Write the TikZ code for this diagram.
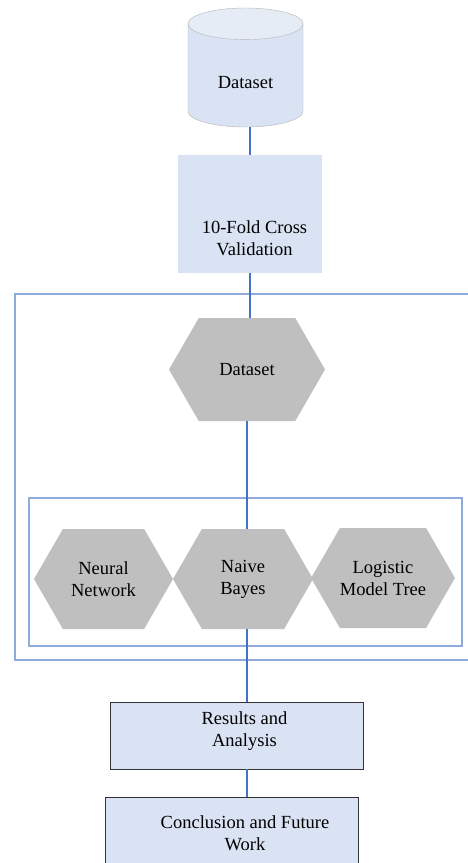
\documentclass[tikz,border=0pt]{standalone}
\usepackage{fontspec}
\setmainfont{Liberation Serif}
\usetikzlibrary{shapes.geometric,shapes.symbols}
\definecolor{boxblue}{HTML}{DAE3F3}
\definecolor{topblue}{HTML}{E6ECF6}
\definecolor{linkblue}{HTML}{4472C4}
\definecolor{frameblue}{HTML}{8FAADC}
\definecolor{hexgray}{HTML}{BFBFBF}
\tikzset{
  every node/.style={font=\fontsize{18.5}{22}\selectfont, align=center},
  db/.style={cylinder, shape border rotate=90, aspect=0.57, draw=gray!60,
    cylinder uses custom fill, cylinder body fill=boxblue, cylinder end fill=topblue,
    minimum width=115pt, minimum height=119pt, inner sep=0pt},
  hexa/.style={signal, signal to=west and east, signal pointer angle=120,
    fill=hexgray, inner sep=0pt},
  stagebox/.style={rectangle, fill=boxblue, inner sep=0pt},
  frame/.style={frameblue, line width=1.6pt},
  link/.style={linkblue, line width=1.3pt}
}
\begin{document}
\begin{tikzpicture}[x=1pt, y=-1pt]
    \useasboundingbox (0,0) rectangle (468,863);
    % Draw the two frames
    \draw[frame] (15,294) rectangle (475,660);
    \draw[frame] (29,498) rectangle (462,646);

    % Input data and validation
    \node[db, anchor=shape center] (db) at (245.5,67.5) {\raisebox{-7pt}[\height][\depth]{Dataset}};
    \node[stagebox, minimum width=144pt, minimum height=118pt,
      label={[xshift=4.5pt, yshift=-24pt]center:10-Fold Cross\\Validation}] (cv) at (250,214) {};

    % Hexagons inside the frames
    \node[hexa, minimum width=156pt, minimum height=103pt] (ds) at (247,369.5) {Dataset};
    \node[hexa, minimum width=139pt, minimum height=100pt] (nn) at (103.5,579) {Neural\\Network};
    \node[hexa, minimum width=140pt, minimum height=100pt] (nb) at (243,579) {Naive\\Bayes};
    \node[hexa, minimum width=140pt, minimum height=100pt] (lmt) at (383,578) {Logistic\\Model Tree};

    % Output stages
    \node[stagebox, draw=black!80, line width=0.8pt, minimum width=253pt, minimum height=67pt,
      label={[xshift=8pt, yshift=4pt]center:Results and\\Analysis}] (res) at (236.5,735.5) {};
    \node[stagebox, draw=black!80, line width=0.8pt, minimum width=253pt, minimum height=73pt,
      label={[xshift=13.5pt]center:Conclusion and Future\\Work}] (cfw) at (231.5,833.5) {};

    % Draw the links
    \draw[link] (cv.north |- db.south) -- (cv.north);
    \draw[link] (cv.south) -- (cv.south |- ds.north);
    \draw[link] (ds.south) -- (ds.south |- nb.north);
    \draw[link] (ds.south |- nb.south) -- (ds.south |- res.north);
    \draw[link] (ds.south |- res.south) -- (ds.south |- cfw.north);
\end{tikzpicture}
\end{document}
